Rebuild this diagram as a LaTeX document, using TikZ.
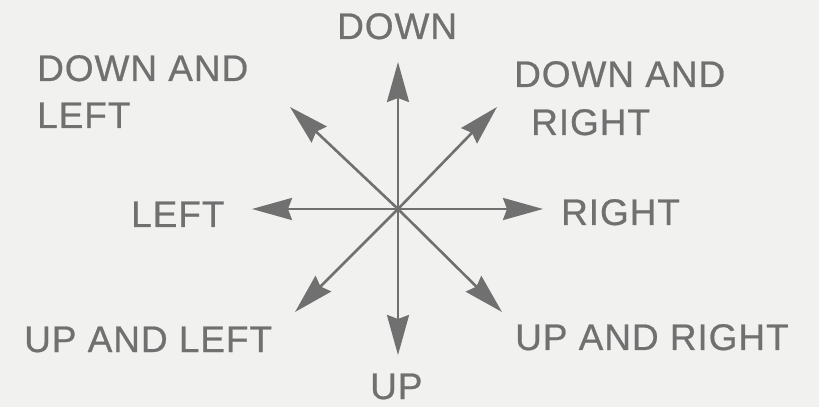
\documentclass[tikz,border=0pt]{standalone}
\usepackage{fontspec}
\setmainfont[LetterSpace=2.5, FakeBold=0.6]{Liberation Sans}
\usetikzlibrary{arrows.meta}
\definecolor{paper}{RGB}{241,241,239}
\definecolor{inkgrey}{RGB}{112,112,112}

\begin{document}
\begin{tikzpicture}[
    x=1pt, y=1pt,
    dirarrow/.style={-{Stealth[length=40pt, width=22pt, inset=4pt]}, line width=2.6pt, inkgrey},
    dirlabel/.style={anchor=base west, inner sep=0pt, align=left, text=inkgrey, font=\fontsize{37}{47}\selectfont}
]

\fill[paper] (0,0) rectangle (819,407);
\useasboundingbox (0,0) rectangle (819,407);

% centre and arrow ends
\coordinate (c) at (398,198);
\coordinate (n) at (398,345);
\coordinate (s) at (398,52);
\coordinate (w) at (252,198);
\coordinate (e) at (543,198);
\coordinate (nw) at (290,300);
\coordinate (ne) at (497,300);
\coordinate (sw) at (295,95);
\coordinate (se) at (502,95);

\foreach \tip in {n,s,w,e,nw,ne,sw,se}
    \draw[dirarrow] (c) -- (\tip);

% labels (multi-line ones sit on their last line)
\node[dirlabel] (down) at (337,368) {DOWN};
\node[dirlabel] (downleft) at (37,279) {DOWN AND\\LEFT};
\node[dirlabel, font=\fontsize{37}{48}\selectfont] (downright) at (514,272) {DOWN AND\\\hspace*{17pt}RIGHT};
\node[dirlabel] (left) at (131,180) {LEFT};
\node[dirlabel] (right) at (561,182) {RIGHT};
\node[dirlabel] (upleft) at (24,55) {UP AND LEFT};
\node[dirlabel] (upright) at (515,57) {UP AND RIGHT};
\node[dirlabel] (up) at (370,8) {UP};

\end{tikzpicture}
\end{document}
